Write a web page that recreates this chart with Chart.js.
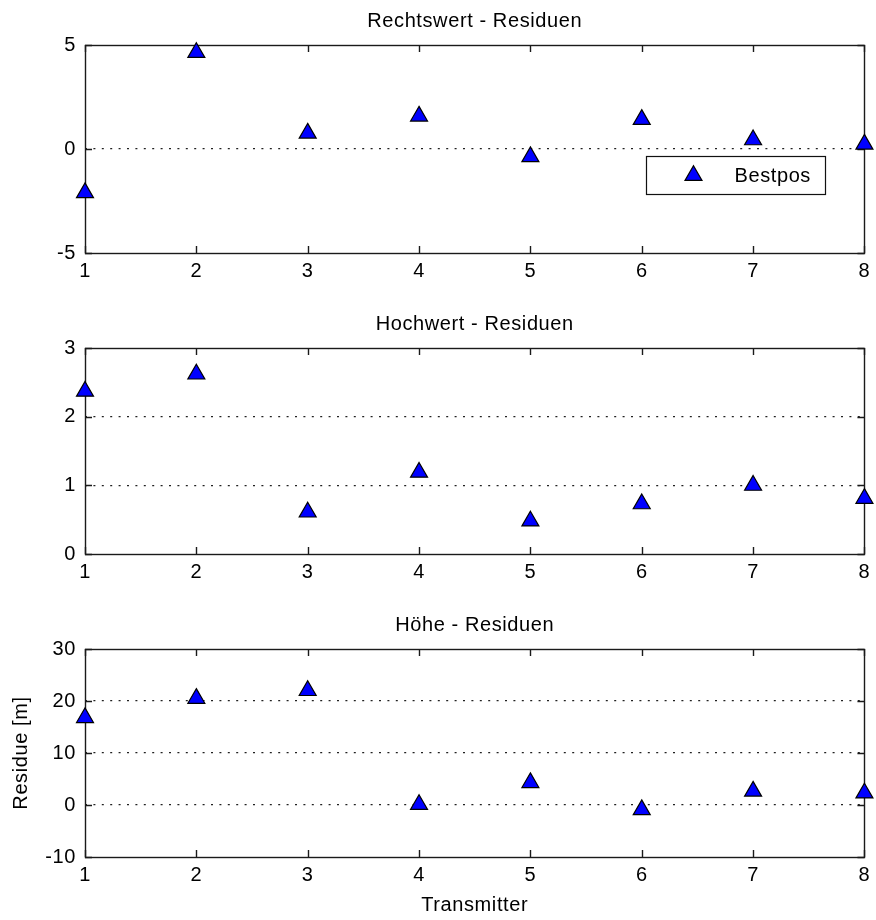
<!DOCTYPE html>
<html>
<head>
<meta charset="utf-8">
<script src="https://cdn.jsdelivr.net/npm/chart.js@4/dist/chart.umd.min.js"></script>
<style>
  html, body { margin: 0; padding: 0; background: #fff; }
  #wrap { position: relative; width: 876px; height: 920px; }
  canvas { position: absolute; left: 0; }
</style>
</head>
<body>
<div id="wrap">
  <canvas id="rechts" width="876" height="290" style="top:0px"></canvas>
  <canvas id="hoch" width="876" height="300" style="top:290px"></canvas>
  <canvas id="hoehe" width="876" height="330" style="top:590px"></canvas>
</div>
<script>
// Transmitter numbers and the residuals of the best position estimate
const transmitters = [1, 2, 3, 4, 5, 6, 7, 8];
const rechtswertResiduen = [-2.1, 4.64, 0.76, 1.58, -0.37, 1.42, 0.44, 0.23];
const hochwertResiduen = [2.37, 2.62, 0.61, 1.19, 0.48, 0.73, 1.0, 0.81];
const hoeheResiduen = [16.8, 20.5, 22.0, 0.1, 4.3, -0.9, 2.65, 2.3];

// Tick values of the three y axes
const rechtswertTicks = [-5, 0, 5];
const hochwertTicks = [0, 1, 2, 3];
const hoeheTicks = [-10, 0, 10, 20, 30];

const seriesName = 'Bestpos';
const panelTitles = ['Rechtswert - Residuen', 'Hochwert - Residuen', 'Höhe - Residuen'];
const xAxisTitle = 'Transmitter';
const yAxisTitle = 'Residue [m]';

const FONT_FAMILY = "'Liberation Sans', Arial, sans-serif";
const baseFont = { family: FONT_FAMILY, size: 20 };
const LETTER_SPACING = '0.6px';

// Slightly wider text tracking for every label on the canvas
const trackingPlugin = {
  id: 'tracking',
  beforeDraw(chart) {
    if ('letterSpacing' in chart.ctx) chart.ctx.letterSpacing = LETTER_SPACING;
  }
};

// Axes box with inward tick marks on all four sides
const framePlugin = {
  id: 'panelFrame',
  beforeDatasetsDraw(chart) {
    const { ctx, chartArea: a, scales: { x, y } } = chart;
    const len = 7;
    ctx.save();
    ctx.strokeStyle = '#1a1a1a';
    ctx.lineWidth = 1.4;
    ctx.beginPath();
    x.ticks.forEach(t => {
      const px = Math.round(x.getPixelForValue(t.value)) + 0.5;
      ctx.moveTo(px, a.bottom); ctx.lineTo(px, a.bottom - len);
      ctx.moveTo(px, a.top); ctx.lineTo(px, a.top + len);
    });
    y.ticks.forEach(t => {
      const py = Math.round(y.getPixelForValue(t.value)) + 0.5;
      ctx.moveTo(a.left, py); ctx.lineTo(a.left + len, py);
      ctx.moveTo(a.right, py); ctx.lineTo(a.right - len, py);
    });
    ctx.stroke();
    ctx.strokeRect(Math.round(a.left) + 0.5, Math.round(a.top) + 0.5,
                   Math.round(a.right) - Math.round(a.left), Math.round(a.bottom) - Math.round(a.top));
    ctx.restore();
  }
};

// Panel heading centred over the plot area
const headingPlugin = {
  id: 'panelHeading',
  afterDraw(chart, args, opts) {
    const { ctx, chartArea: a } = chart;
    ctx.save();
    ctx.font = `20px ${FONT_FAMILY}`;
    ctx.fillStyle = '#000';
    ctx.textAlign = 'center';
    ctx.textBaseline = 'alphabetic';
    ctx.fillText(opts.text, (a.left + a.right) / 2, a.top - 18);
    ctx.restore();
  }
};

// Boxed legend placed inside the plot area
const boxLegendPlugin = {
  id: 'boxLegend',
  afterDatasetsDraw(chart, args, opts) {
    if (!opts.show) return;
    const { ctx, chartArea: a } = chart;
    const ds = chart.data.datasets[0];
    const bw = 179, bh = 38;
    const bx = Math.round(a.right - 39 - bw) + 0.5;
    const by = Math.round(a.top + 111) + 0.5;
    ctx.save();
    ctx.fillStyle = '#fff';
    ctx.fillRect(bx, by, bw, bh);
    ctx.strokeStyle = '#111';
    ctx.lineWidth = 1.2;
    ctx.strokeRect(bx, by, bw, bh);
    ctx.fillStyle = ds.backgroundColor;
    ctx.strokeStyle = ds.borderColor;
    ctx.lineWidth = ds.borderWidth;
    Chart.helpers.drawPoint(ctx, {
      pointStyle: ds.pointStyle, radius: ds.pointRadius, rotation: 0, borderWidth: ds.borderWidth
    }, bx + 47, by + 19);
    ctx.fillStyle = '#000';
    ctx.font = `20px ${FONT_FAMILY}`;
    ctx.textAlign = 'left';
    ctx.textBaseline = 'middle';
    ctx.fillText(ds.label, bx + 88, by + 20);
    ctx.restore();
  }
};

function makePanel(canvasId, values, yTicks, heading, layout) {
  const fixedTicks = list => scale => { scale.ticks = list.map(v => ({ value: v })); };
  const lastTick = yTicks.length - 1;
  return new Chart(document.getElementById(canvasId), {
    type: 'scatter',
    data: {
      datasets: [{
        label: seriesName,
        data: transmitters.map((t, i) => ({ x: t, y: values[i] })),
        pointStyle: 'triangle',
        pointRadius: 9.8,
        pointHoverRadius: 9.8,
        backgroundColor: '#0000ff',
        borderColor: '#000',
        borderWidth: 1.2,
        clip: false
      }]
    },
    options: {
      responsive: false,
      animation: false,
      devicePixelRatio: 1,
      events: [],
      layout: { padding: { top: layout.top, right: 10, bottom: 0, left: 0 } },
      plugins: {
        legend: { display: false },
        tooltip: { enabled: false },
        panelHeading: { text: heading },
        boxLegend: { show: !!layout.legend }
      },
      scales: {
        x: {
          type: 'linear',
          min: transmitters[0],
          max: transmitters[transmitters.length - 1],
          afterBuildTicks: fixedTicks(transmitters),
          afterFit: s => { s.height = layout.xHeight; },
          grid: { display: false, drawTicks: false },
          border: { display: false },
          ticks: { color: '#000', font: baseFont, padding: 6, maxRotation: 0, autoSkip: false },
          title: {
            display: !!layout.axisTitles, text: xAxisTitle, color: '#000', font: baseFont,
            padding: { top: 0, bottom: 3 }
          }
        },
        y: {
          min: yTicks[0],
          max: yTicks[lastTick],
          afterBuildTicks: fixedTicks(yTicks),
          afterFit: s => { s.width = 85; },
          grid: {
            display: true,
            drawTicks: false,
            // dotted lines only inside the box, not on its top and bottom edges
            color: c => (c.index === 0 || c.index === lastTick) ? 'rgba(0,0,0,0)' : '#222',
            lineWidth: 1.2
          },
          border: { display: false, dash: [2, 6.4] },
          ticks: { color: '#000', font: baseFont, padding: 9 },
          title: {
            display: !!layout.axisTitles, text: yAxisTitle, color: '#000', font: baseFont,
            padding: { top: 9, bottom: 0 }
          }
        }
      }
    },
    plugins: [trackingPlugin, framePlugin, headingPlugin, boxLegendPlugin]
  });
}

makePanel('rechts', rechtswertResiduen, rechtswertTicks, panelTitles[0], { top: 45, xHeight: 37, legend: true });
makePanel('hoch', hochwertResiduen, hochwertTicks, panelTitles[1], { top: 58, xHeight: 36 });
makePanel('hoehe', hoeheResiduen, hoeheTicks, panelTitles[2], { top: 59, xHeight: 63, axisTitles: true });
</script>
</body>
</html>
